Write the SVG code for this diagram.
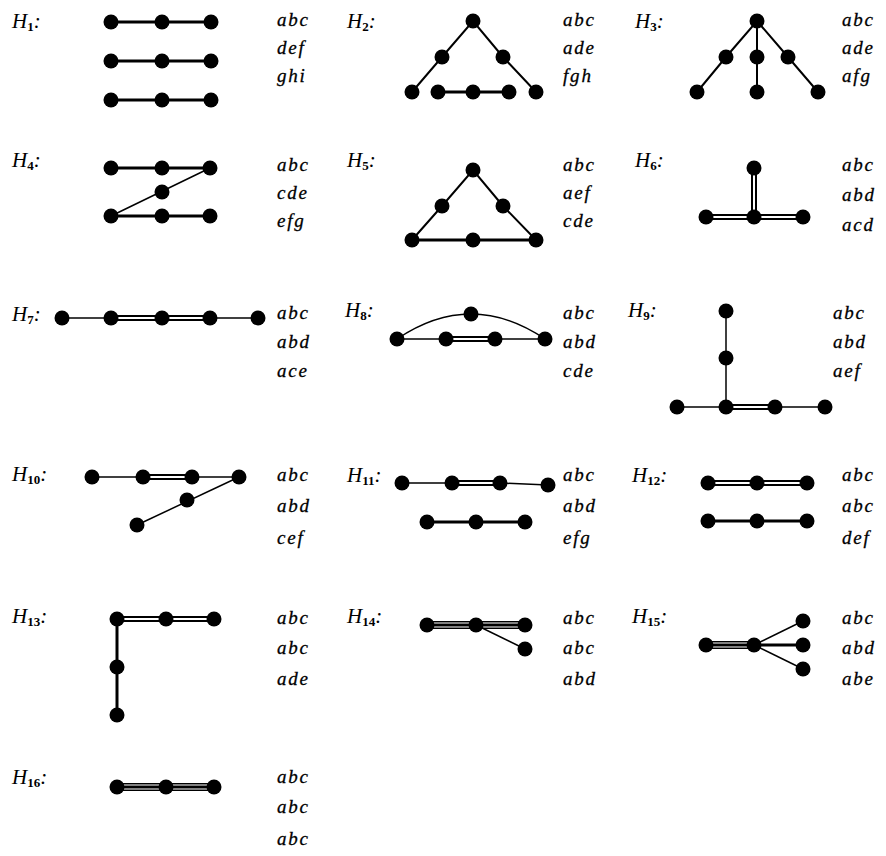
<svg xmlns="http://www.w3.org/2000/svg" width="886" height="856" viewBox="0 0 886 856">
<style>
.bg{fill:#fff}
.n{fill:#000}
.tk{stroke:#000;stroke-width:3;fill:none}
.md{stroke:#000;stroke-width:2;fill:none}
.tn{stroke:#000;stroke-width:1.5;fill:none}
.d1{stroke:#000;stroke-width:6;fill:none}
.d2{stroke:#fff;stroke-width:2;fill:none}
.t3{stroke:#000;stroke-width:8;fill:none}
.t3w{stroke:#fff;stroke-width:1.2;fill:none}
.lb{font-family:"Liberation Serif",serif;font-style:italic;font-size:21px;fill:#000}
.lb tspan.s{font-size:13px;font-style:normal;font-weight:bold}
.hx{font-family:"Liberation Serif",serif;font-style:italic;font-size:19px;fill:#000;letter-spacing:1.8px;stroke:#000;stroke-width:0.3}
</style>
<rect class="bg" x="0" y="0" width="886" height="856"/>

<!-- H1 -->
<g id="H1">
<text class="lb" x="12" y="28">H<tspan class="s" dy="3">1</tspan><tspan dy="-3">:</tspan></text>
<g class="connectors">
<line class="tk" x1="111" y1="22" x2="211" y2="22"/>
<line class="tk" x1="111" y1="61" x2="211" y2="61"/>
<line class="tk" x1="111" y1="100" x2="211" y2="100"/>
</g>
<g id="H1-nodes">
<circle class="n" cx="111" cy="22" r="7.5"/><circle class="n" cx="162" cy="22" r="7.5"/><circle class="n" cx="211" cy="22" r="7.5"/>
<circle class="n" cx="111" cy="61" r="7.5"/><circle class="n" cx="162" cy="61" r="7.5"/><circle class="n" cx="211" cy="61" r="7.5"/>
<circle class="n" cx="111" cy="100" r="7.5"/><circle class="n" cx="162" cy="100" r="7.5"/><circle class="n" cx="211" cy="100" r="7.5"/>
</g>
<text class="hx" x="277" y="26">abc</text>
<text class="hx" x="277" y="54">def</text>
<text class="hx" x="277" y="82">ghi</text>
</g>

<!-- H2 -->
<g id="H2">
<text class="lb" x="347" y="28">H<tspan class="s" dy="3">2</tspan><tspan dy="-3">:</tspan></text>
<g class="connectors">
<polyline class="md" points="412,92 442,57 473,21 503,57 536,92"/>
<line class="tk" x1="438" y1="92" x2="509" y2="92"/>
</g>
<circle class="n" cx="473" cy="21" r="7.5"/><circle class="n" cx="442" cy="57" r="7.5"/><circle class="n" cx="503" cy="57" r="7.5"/>
<circle class="n" cx="412" cy="92" r="7.5"/><circle class="n" cx="438" cy="92" r="7.5"/><circle class="n" cx="473" cy="92" r="7.5"/><circle class="n" cx="509" cy="92" r="7.5"/><circle class="n" cx="536" cy="92" r="7.5"/>
<text class="hx" x="563" y="26">abc</text>
<text class="hx" x="563" y="54">ade</text>
<text class="hx" x="563" y="82">fgh</text>
</g>

<!-- H3 -->
<g id="H3">
<text class="lb" x="635" y="28">H<tspan class="s" dy="3">3</tspan><tspan dy="-3">:</tspan></text>
<g class="connectors">
<polyline class="md" points="697,92 726,57 757,21 788,57 818,92"/>
<line class="md" x1="757" y1="21" x2="757" y2="92"/>
</g>
<circle class="n" cx="757" cy="21" r="7.5"/><circle class="n" cx="726" cy="57" r="7.5"/><circle class="n" cx="757" cy="57" r="7.5"/><circle class="n" cx="788" cy="57" r="7.5"/>
<circle class="n" cx="697" cy="92" r="7.5"/><circle class="n" cx="757" cy="92" r="7.5"/><circle class="n" cx="818" cy="92" r="7.5"/>
<text class="hx" x="842" y="26">abc</text>
<text class="hx" x="842" y="54">ade</text>
<text class="hx" x="842" y="82">afg</text>
</g>

<!-- H4 -->
<g id="H4">
<text class="lb" x="12" y="167">H<tspan class="s" dy="3">4</tspan><tspan dy="-3">:</tspan></text>
<g class="connectors">
<line class="tk" x1="111" y1="168" x2="210" y2="168"/>
<line class="tk" x1="111" y1="216" x2="210" y2="216"/>
<line class="tn" x1="111" y1="216" x2="210" y2="168"/>
</g>
<circle class="n" cx="111" cy="168" r="7.5"/><circle class="n" cx="162" cy="168" r="7.5"/><circle class="n" cx="210" cy="168" r="7.5"/>
<circle class="n" cx="162" cy="192" r="7.5"/>
<circle class="n" cx="111" cy="216" r="7.5"/><circle class="n" cx="162" cy="216" r="7.5"/><circle class="n" cx="210" cy="216" r="7.5"/>
<text class="hx" x="277" y="171">abc</text>
<text class="hx" x="277" y="199">cde</text>
<text class="hx" x="277" y="227">efg</text>
</g>

<!-- H5 -->
<g id="H5">
<text class="lb" x="347" y="167">H<tspan class="s" dy="3">5</tspan><tspan dy="-3">:</tspan></text>
<g class="connectors">
<polyline class="md" points="412,240 442,206 473,170 503,206 536,240"/>
<line class="tk" x1="412" y1="240" x2="536" y2="240"/>
</g>
<circle class="n" cx="473" cy="170" r="7.5"/><circle class="n" cx="442" cy="206" r="7.5"/><circle class="n" cx="503" cy="206" r="7.5"/>
<circle class="n" cx="412" cy="240" r="7.5"/><circle class="n" cx="473" cy="240" r="7.5"/><circle class="n" cx="536" cy="240" r="7.5"/>
<text class="hx" x="563" y="171">abc</text>
<text class="hx" x="563" y="199">aef</text>
<text class="hx" x="563" y="227">cde</text>
</g>

<!-- H6 -->
<g id="H6">
<text class="lb" x="635" y="167">H<tspan class="s" dy="3">6</tspan><tspan dy="-3">:</tspan></text>
<g class="connectors">
<line class="d1" x1="754" y1="168" x2="754" y2="217"/>
<line class="d1" x1="706" y1="217" x2="803" y2="217"/>
<line class="d2" x1="754" y1="168" x2="754" y2="217"/>
<line class="d2" x1="706" y1="217" x2="803" y2="217"/>
</g>
<circle class="n" cx="754" cy="168" r="7.5"/><circle class="n" cx="706" cy="217" r="7.5"/><circle class="n" cx="754" cy="217" r="7.5"/><circle class="n" cx="803" cy="217" r="7.5"/>
<text class="hx" x="842" y="171">abc</text>
<text class="hx" x="842" y="201">abd</text>
<text class="hx" x="842" y="231">acd</text>
</g>

<!-- H7 -->
<g id="H7">
<text class="lb" x="12" y="321">H<tspan class="s" dy="3">7</tspan><tspan dy="-3">:</tspan></text>
<g class="connectors">
<line class="tn" x1="62" y1="318" x2="258" y2="318"/>
<line class="d1" x1="111" y1="318" x2="210" y2="318"/>
<line class="d2" x1="111" y1="318" x2="210" y2="318"/>
</g>
<circle class="n" cx="62" cy="318" r="7.5"/><circle class="n" cx="111" cy="318" r="7.5"/><circle class="n" cx="162" cy="318" r="7.5"/><circle class="n" cx="210" cy="318" r="7.5"/><circle class="n" cx="258" cy="318" r="7.5"/>
<text class="hx" x="277" y="319">abc</text>
<text class="hx" x="277" y="348">abd</text>
<text class="hx" x="277" y="377">ace</text>
</g>

<!-- H8 -->
<g id="H8">
<text class="lb" x="345" y="317">H<tspan class="s" dy="3">8</tspan><tspan dy="-3">:</tspan></text>
<g class="connectors">
<path class="tn" d="M397 339 Q471 289 545 339"/>
<line class="tn" x1="397" y1="339" x2="545" y2="339"/>
<line class="d1" x1="446" y1="339" x2="495" y2="339"/>
<line class="d2" x1="446" y1="339" x2="495" y2="339"/>
</g>
<circle class="n" cx="471" cy="314" r="7.5"/>
<circle class="n" cx="397" cy="339" r="7.5"/><circle class="n" cx="446" cy="339" r="7.5"/><circle class="n" cx="495" cy="339" r="7.5"/><circle class="n" cx="545" cy="339" r="7.5"/>
<text class="hx" x="563" y="319">abc</text>
<text class="hx" x="563" y="348">abd</text>
<text class="hx" x="563" y="377">cde</text>
</g>

<!-- H9 -->
<g id="H9">
<text class="lb" x="628" y="317">H<tspan class="s" dy="3">9</tspan><tspan dy="-3">:</tspan></text>
<g class="connectors">
<line class="tn" x1="726" y1="311" x2="726" y2="407"/>
<line class="tn" x1="677" y1="407" x2="825" y2="407"/>
<line class="d1" x1="726" y1="407" x2="775" y2="407"/>
<line class="d2" x1="726" y1="407" x2="775" y2="407"/>
</g>
<circle class="n" cx="726" cy="311" r="7.5"/><circle class="n" cx="726" cy="358" r="7.5"/>
<circle class="n" cx="677" cy="407" r="7.5"/><circle class="n" cx="726" cy="407" r="7.5"/><circle class="n" cx="775" cy="407" r="7.5"/><circle class="n" cx="825" cy="407" r="7.5"/>
<text class="hx" x="833" y="319">abc</text>
<text class="hx" x="833" y="348">abd</text>
<text class="hx" x="833" y="377">aef</text>
</g>

<!-- H10 -->
<g id="H10">
<text class="lb" x="12" y="481">H<tspan class="s" dy="3">10</tspan><tspan dy="-3">:</tspan></text>
<g class="connectors">
<line class="tn" x1="92" y1="477" x2="239" y2="477"/>
<line class="d1" x1="143" y1="477" x2="192" y2="477"/>
<line class="d2" x1="143" y1="477" x2="192" y2="477"/>
<line class="tn" x1="137" y1="525" x2="239" y2="477"/>
</g>
<circle class="n" cx="92" cy="477" r="7.5"/><circle class="n" cx="143" cy="477" r="7.5"/><circle class="n" cx="192" cy="477" r="7.5"/><circle class="n" cx="239" cy="477" r="7.5"/>
<circle class="n" cx="187" cy="500" r="7.5"/><circle class="n" cx="137" cy="525" r="7.5"/>
<text class="hx" x="277" y="481">abc</text>
<text class="hx" x="277" y="512">abd</text>
<text class="hx" x="277" y="544">cef</text>
</g>

<!-- H11 -->
<g id="H11">
<text class="lb" x="347" y="482">H<tspan class="s" dy="3">11</tspan><tspan dy="-3">:</tspan></text>
<g class="connectors">
<polyline class="tn" points="402,483 500,483 548,485"/>
<line class="d1" x1="452" y1="483" x2="500" y2="483"/>
<line class="d2" x1="452" y1="483" x2="500" y2="483"/>
<line class="tk" x1="427" y1="522" x2="525" y2="522"/>
</g>
<circle class="n" cx="402" cy="483" r="7.5"/><circle class="n" cx="452" cy="483" r="7.5"/><circle class="n" cx="500" cy="483" r="7.5"/><circle class="n" cx="548" cy="485" r="7.5"/>
<circle class="n" cx="427" cy="522" r="7.5"/><circle class="n" cx="476" cy="522" r="7.5"/><circle class="n" cx="525" cy="522" r="7.5"/>
<text class="hx" x="563" y="481">abc</text>
<text class="hx" x="563" y="512">abd</text>
<text class="hx" x="563" y="544">efg</text>
</g>

<!-- H12 -->
<g id="H12">
<text class="lb" x="632" y="482">H<tspan class="s" dy="3">12</tspan><tspan dy="-3">:</tspan></text>
<g class="connectors">
<line class="d1" x1="708" y1="483" x2="807" y2="483"/>
<line class="d2" x1="708" y1="483" x2="807" y2="483"/>
<line class="tk" x1="708" y1="521" x2="807" y2="521"/>
</g>
<circle class="n" cx="708" cy="483" r="7.5"/><circle class="n" cx="757" cy="483" r="7.5"/><circle class="n" cx="807" cy="483" r="7.5"/>
<circle class="n" cx="708" cy="521" r="7.5"/><circle class="n" cx="757" cy="521" r="7.5"/><circle class="n" cx="807" cy="521" r="7.5"/>
<text class="hx" x="842" y="481">abc</text>
<text class="hx" x="842" y="512">abc</text>
<text class="hx" x="842" y="544">def</text>
</g>

<!-- H13 -->
<g id="H13">
<text class="lb" x="12" y="623">H<tspan class="s" dy="3">13</tspan><tspan dy="-3">:</tspan></text>
<g class="connectors">
<line class="d1" x1="117" y1="619" x2="214" y2="619"/>
<line class="d2" x1="117" y1="619" x2="214" y2="619"/>
<line class="tk" x1="117" y1="619" x2="117" y2="715"/>
</g>
<circle class="n" cx="117" cy="619" r="7.5"/><circle class="n" cx="166" cy="619" r="7.5"/><circle class="n" cx="214" cy="619" r="7.5"/>
<circle class="n" cx="117" cy="667" r="7.5"/><circle class="n" cx="117" cy="715" r="7.5"/>
<text class="hx" x="277" y="624">abc</text>
<text class="hx" x="277" y="654">abc</text>
<text class="hx" x="277" y="685">ade</text>
</g>

<!-- H14 -->
<g id="H14">
<text class="lb" x="347" y="623">H<tspan class="s" dy="3">14</tspan><tspan dy="-3">:</tspan></text>
<g class="connectors">
<line class="t3" x1="427" y1="625" x2="525" y2="625"/>
<line class="t3w" x1="427" y1="623" x2="525" y2="623"/>
<line class="t3w" x1="427" y1="627" x2="525" y2="627"/>
<line class="tn" x1="476" y1="625" x2="525" y2="649"/>
</g>
<circle class="n" cx="427" cy="625" r="7.5"/><circle class="n" cx="476" cy="625" r="7.5"/><circle class="n" cx="525" cy="625" r="7.5"/>
<circle class="n" cx="525" cy="649" r="7.5"/>
<text class="hx" x="563" y="624">abc</text>
<text class="hx" x="563" y="654">abc</text>
<text class="hx" x="563" y="685">abd</text>
</g>

<!-- H15 -->
<g id="H15">
<text class="lb" x="632" y="623">H<tspan class="s" dy="3">15</tspan><tspan dy="-3">:</tspan></text>
<g class="connectors">
<line class="t3" x1="706" y1="645" x2="754" y2="645"/>
<line class="t3w" x1="706" y1="643" x2="754" y2="643"/>
<line class="t3w" x1="706" y1="647" x2="754" y2="647"/>
<line class="tn" x1="754" y1="645" x2="803" y2="621"/>
<line class="tk" x1="754" y1="645" x2="803" y2="645"/>
<line class="tn" x1="754" y1="645" x2="803" y2="669"/>
</g>
<circle class="n" cx="706" cy="645" r="7.5"/><circle class="n" cx="754" cy="645" r="7.5"/>
<circle class="n" cx="803" cy="621" r="7.5"/><circle class="n" cx="803" cy="645" r="7.5"/><circle class="n" cx="803" cy="669" r="7.5"/>
<text class="hx" x="842" y="624">abc</text>
<text class="hx" x="842" y="654">abd</text>
<text class="hx" x="842" y="685">abe</text>
</g>

<!-- H16 -->
<g id="H16">
<text class="lb" x="12" y="784">H<tspan class="s" dy="3">16</tspan><tspan dy="-3">:</tspan></text>
<g class="connectors">
<line class="t3" x1="117" y1="787" x2="214" y2="787"/>
<line class="t3w" x1="117" y1="785" x2="214" y2="785"/>
<line class="t3w" x1="117" y1="789" x2="214" y2="789"/>
</g>
<circle class="n" cx="117" cy="787" r="7.5"/><circle class="n" cx="166" cy="787" r="7.5"/><circle class="n" cx="214" cy="787" r="7.5"/>
<text class="hx" x="277" y="783">abc</text>
<text class="hx" x="277" y="813">abc</text>
<text class="hx" x="277" y="845">abc</text>
</g>
</svg>
